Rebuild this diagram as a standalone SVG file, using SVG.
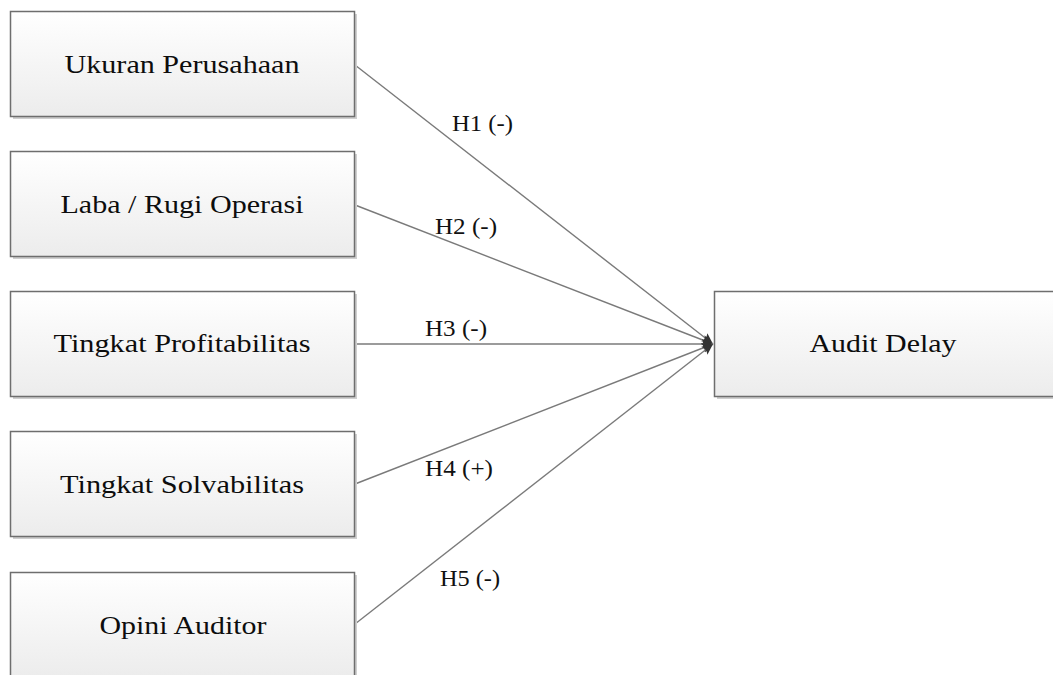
<svg xmlns="http://www.w3.org/2000/svg" width="1053" height="675" viewBox="0 0 1053 675">
<style>
.box{fill:url(#g);stroke:#6e6e6e;stroke-width:1.5}
.sh{fill:#cfcfcf}
.t{font-family:"Liberation Serif",serif;font-size:25px;fill:#0d0d0d;text-anchor:middle}
.l{font-family:"Liberation Serif",serif;font-size:23px;fill:#111}
.c{stroke:#7a7a7a;stroke-width:1.4;fill:none}
</style>
<defs>
<linearGradient id="g" x1="0" y1="0" x2="0" y2="1">
<stop offset="0" stop-color="#ffffff"/>
<stop offset="1" stop-color="#ececec"/>
</linearGradient>
<marker id="a" markerWidth="12" markerHeight="12" refX="11" refY="6" orient="auto" markerUnits="userSpaceOnUse">
<path d="M0,1 L11,6 L0,11 Q3,6 0,1 Z" fill="#333333"/>
</marker>
</defs>
<rect width="1053" height="675" fill="#ffffff"/>
<g id="connectors">
<line class="c" x1="355" y1="65" x2="713" y2="344" marker-end="url(#a)"/>
<line class="c" x1="355" y1="205" x2="713" y2="344" marker-end="url(#a)"/>
<line class="c" x1="355" y1="344" x2="713" y2="344" marker-end="url(#a)"/>
<line class="c" x1="355" y1="484" x2="713" y2="344" marker-end="url(#a)"/>
<line class="c" x1="355" y1="624" x2="713" y2="344" marker-end="url(#a)"/>
<text class="l" x="452" y="131" textLength="61" lengthAdjust="spacingAndGlyphs">H1 (-)</text>
<text class="l" x="435" y="234" textLength="62" lengthAdjust="spacingAndGlyphs">H2 (-)</text>
<text class="l" x="425" y="336" textLength="62" lengthAdjust="spacingAndGlyphs">H3 (-)</text>
<text class="l" x="425" y="476" textLength="68" lengthAdjust="spacingAndGlyphs">H4 (+)</text>
<text class="l" x="440" y="586" textLength="60" lengthAdjust="spacingAndGlyphs">H5 (-)</text>
</g>
<g id="n1">
<rect class="sh" x="13" y="14" width="344" height="105"/>
<rect class="box" x="10.5" y="11.5" width="344" height="105"/>
<text class="t" x="182" y="73" textLength="235" lengthAdjust="spacingAndGlyphs">Ukuran Perusahaan</text>
</g>
<g id="n2">
<rect class="sh" x="13" y="154" width="344" height="105"/>
<rect class="box" x="10.5" y="151.5" width="344" height="105"/>
<text class="t" x="182" y="213" textLength="243" lengthAdjust="spacingAndGlyphs">Laba / Rugi Operasi</text>
</g>
<g id="n3">
<rect class="sh" x="13" y="294" width="344" height="105"/>
<rect class="box" x="10.5" y="291.5" width="344" height="105"/>
<text class="t" x="182" y="352" textLength="257" lengthAdjust="spacingAndGlyphs">Tingkat Profitabilitas</text>
</g>
<g id="n4">
<rect class="sh" x="13" y="434" width="344" height="105"/>
<rect class="box" x="10.5" y="431.5" width="344" height="105"/>
<text class="t" x="182" y="493" textLength="244" lengthAdjust="spacingAndGlyphs">Tingkat Solvabilitas</text>
</g>
<g id="n5">
<rect class="sh" x="13" y="575" width="344" height="105"/>
<rect class="box" x="10.5" y="572.5" width="344" height="105"/>
<text class="t" x="183" y="634" textLength="167" lengthAdjust="spacingAndGlyphs">Opini Auditor</text>
</g>
<g id="n6">
<rect class="sh" x="717" y="294" width="340" height="105"/>
<rect class="box" x="714.5" y="291.5" width="340" height="105"/>
<text class="t" x="883" y="352" textLength="147" lengthAdjust="spacingAndGlyphs">Audit Delay</text>
</g>
</svg>
